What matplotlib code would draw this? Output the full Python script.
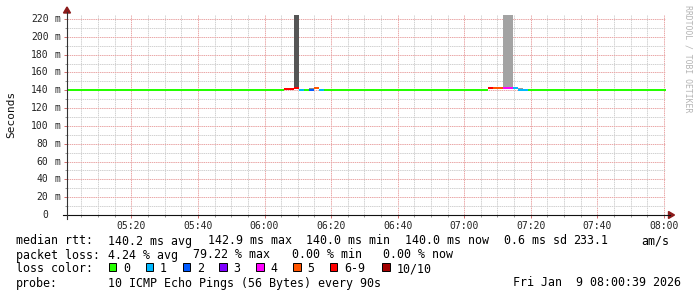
import matplotlib
matplotlib.use('Agg')
import matplotlib.pyplot as plt
from matplotlib.patches import Rectangle, Polygon
from matplotlib.lines import Line2D
from matplotlib.ticker import FixedLocator
import matplotlib.transforms as mtransforms

# ---------------- data ----------------
# time axis in minutes after 05:00; graph spans 05:00:39 .. 08:00:39
x_start_min = 0.65
x_end_min = 180.65
step_min = 1.5                # 90 s probe interval
first_step_start_min = -0.25
n_steps = 122

baseline_rtt_ms = 140.0
baseline_loss = 0

event1_first_step = 44
event1_rtt_ms = [141.9, 141.9, 142.9, 140.0, 140.0, 140.0, 142.4, 140.0]
event1_loss = [6, 6, 6, 1, 0, 2, 5, 1]

event2_first_step = 85
event2_rtt_ms = [142.4, 142.4, 142.4, 142.4, 142.4, 142.4, 140.0, 140.0]
event2_loss = [6, 5, 5, 4, 4, 1, 1, 1]

smoke_steps = [46, 49, 88, 89, 91]
smoke_low_ms = [143.5, 141.2, 143.5, 143.5, 141.2]
smoke_high_ms = [250.0, 142.6, 250.0, 250.0, 142.1]
smoke_shade = ['#555555', '#8a8a8a', '#a3a3a3', '#a3a3a3', '#9a9a9a']

loss_labels = ['0', '1', '2', '3', '4', '5', '6-9', '10/10']
loss_colors = ['#26ff00', '#00b8ff', '#0059ff', '#7e00ff', '#ff00ff',
               '#ff5500', '#ff0000', '#a10000']

y_ticks = [0, 20, 40, 60, 80, 100, 120, 140, 160, 180, 200, 220]
x_tick_minutes = [20, 40, 60, 80, 100, 120, 140, 160, 180]
x_tick_labels = ['05:20', '05:40', '06:00', '06:20', '06:40',
                 '07:00', '07:20', '07:40', '08:00']

median_line = ['median rtt:', '140.2 ms avg', '142.9 ms max', '140.0 ms min',
               '140.0 ms now', '0.6 ms sd', '233.1', 'am/s']
loss_line = ['packet loss:', '4.24 % avg', '79.22 % max', '0.00 % min', '0.00 % now']
probe_text = '10 ICMP Echo Pings (56 Bytes) every 90s'
date_text = 'Fri Jan  9 08:00:39 2026'

# ---------------- build series ----------------
rtt = [baseline_rtt_ms] * n_steps
loss = [baseline_loss] * n_steps
for i, (r, l) in enumerate(zip(event1_rtt_ms, event1_loss)):
    rtt[event1_first_step + i] = r
    loss[event1_first_step + i] = l
for i, (r, l) in enumerate(zip(event2_rtt_ms, event2_loss)):
    rtt[event2_first_step + i] = r
    loss[event2_first_step + i] = l
starts = [first_step_start_min + step_min * k for k in range(n_steps)]


def bucket(l):
    if l >= 10:
        return 7
    return min(l, 6)


# ---------------- figure ----------------
W, H = 697, 297
fig = plt.figure(figsize=(W / 100, H / 100), dpi=100)
fig.patch.set_facecolor('white')


def fx(x):
    return x / W


def fy(y):
    return 1 - y / H


MONO = 'DejaVu Sans Mono'
ax = fig.add_axes([fx(67), fy(215), (666 - 67) / W, (215 - 15) / H])
ax.set_facecolor('white')
ax.set_xlim(x_start_min, x_end_min)
ax.set_ylim(0, 224.5)
for s in ax.spines.values():
    s.set_visible(False)

# grid
ax.xaxis.set_major_locator(FixedLocator(x_tick_minutes))
ax.xaxis.set_minor_locator(FixedLocator([m for m in range(5, 181, 5) if m % 20 != 0]))
ax.yaxis.set_major_locator(FixedLocator(y_ticks))
ax.yaxis.set_minor_locator(FixedLocator([v for v in range(10, 221, 20)]))
dash = (0, (1.44, 0.72))
ax.grid(which='minor', color='#d2d2d2', linestyle=dash, linewidth=0.72)
ax.grid(which='major', color='#eaa9a9', linestyle=dash, linewidth=0.72)
ax.set_axisbelow(True)

ax.set_xticks(x_tick_minutes)
ax.set_xticklabels(x_tick_labels, fontsize=7, family=MONO, color='#222222')
ax.tick_params(axis='x', which='major', length=2.2, width=0.72, color='#d07070', pad=2.0)
ax.tick_params(axis='x', which='minor', length=1.5, width=0.72, color='#999999')
ax.set_yticklabels([])
ax.tick_params(axis='y', which='major', length=2.2, width=0.72, color='#d07070')
ax.tick_params(axis='y', which='minor', length=1.5, width=0.72, color='#999999')

# y tick labels (number column + unit column, rrdtool style)
tr = mtransforms.blended_transform_factory(fig.transFigure, ax.transData)
for v in y_ticks:
    ax.text(fx(48.5), v, f'{v}', transform=tr, ha='right', va='center',
            fontsize=7, family=MONO, color='#222222')
    if v != 0:
        ax.text(fx(57.3), v, 'm', transform=tr, ha='center', va='center',
                fontsize=7, family=MONO, color='#222222')

# smoke
ax.bar([starts[k] for k in smoke_steps],
       [h - l for h, l in zip(smoke_high_ms, smoke_low_ms)],
       bottom=smoke_low_ms, width=step_min, align='edge',
       color=smoke_shade, linewidth=0)

# median line coloured by loss
line_h = 2.4
ax.bar(starts, [line_h] * n_steps, bottom=[r - line_h / 2 for r in rtt],
       width=step_min, align='edge',
       color=[loss_colors[bucket(l)] for l in loss], linewidth=0)

# axes lines and arrows
fig.add_artist(Line2D([fx(63), fx(670)], [fy(215), fy(215)], color='#111111',
                      linewidth=0.8, transform=fig.transFigure))
fig.add_artist(Line2D([fx(67), fx(67)], [fy(219), fy(12)], color='#333333',
                      linewidth=0.8, transform=fig.transFigure))
fig.add_artist(Polygon([(fx(668.5), fy(211.5)), (fx(674.5), fy(215)), (fx(668.5), fy(218.5))],
                       closed=True, color='#8b1a1a', transform=fig.transFigure))
fig.add_artist(Polygon([(fx(63.5), fy(13)), (fx(67), fy(7)), (fx(70.5), fy(13))],
                       closed=True, color='#8b1a1a', transform=fig.transFigure))

# y label
fig.text(fx(10.8), fy(114.5), 'Seconds', rotation=90, ha='center', va='center',
         fontsize=8, family=MONO, color='#111111')

# watermark
fig.text(fx(688), fy(5), 'RRDTOOL / TOBI OETIKER', rotation=270, ha='center', va='top',
         fontsize=5.9, family=MONO, color='#b4b4b4')

# legend lines
LF = 8.4
line1_x = [16, 108, 208, 306, 405, 504, 573, 641]
for t, x in zip(median_line, line1_x):
    fig.text(fx(x), fy(241), t, ha='left', va='center', fontsize=LF, family=MONO, color='black')
line2_x = [16, 108, 193, 292, 383]
for t, x in zip(loss_line, line2_x):
    fig.text(fx(x), fy(255), t, ha='left', va='center', fontsize=LF, family=MONO, color='black')

fig.text(fx(16), fy(268.5), 'loss color:', ha='left', va='center', fontsize=LF, family=MONO, color='black')
box_x = [109, 145.7, 182.7, 219.3, 256.3, 293.3, 330, 382.3]
for bx, lab, col in zip(box_x, loss_labels, loss_colors):
    fig.add_artist(Rectangle((fx(bx), fy(270.7)), 7.2 / W, 7.4 / H, facecolor=col,
                             edgecolor='black', linewidth=0.7, transform=fig.transFigure))
    fig.text(fx(bx + 14), fy(268.5), lab, ha='left', va='center', fontsize=LF,
             family=MONO, color='black')

fig.text(fx(16), fy(283), 'probe:', ha='left', va='center', fontsize=LF, family=MONO, color='black')
fig.text(fx(108), fy(283), probe_text, ha='left', va='center', fontsize=LF, family=MONO, color='black')
fig.text(fx(681), fy(283), date_text, ha='right', va='center', fontsize=LF, family=MONO, color='black')

fig.savefig('out.png', dpi=100, facecolor='white')
